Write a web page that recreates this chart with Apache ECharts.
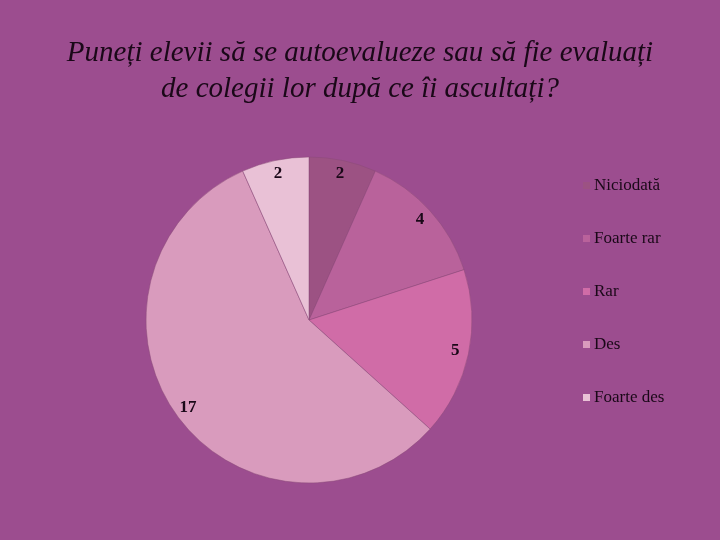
<!DOCTYPE html>
<html><head><meta charset="utf-8">
<script src="https://cdn.jsdelivr.net/npm/echarts@6/dist/echarts.min.js"></script>
<style>html,body{margin:0;padding:0;background:#9c4d8f;}#c{width:720px;height:540px;}</style>
</head><body><div id="c"></div>
<script>
const categories = ['Niciodată', 'Foarte rar', 'Rar', 'Des', 'Foarte des'];
const values = [2, 4, 5, 17, 2];
const colors = ['#9c5283', '#b9629b', '#d06ca7', '#d99bbd', '#e9c1d6'];
const titleText = 'Puneți elevii să se autoevalueze sau să fie evaluați\nde colegii lor după ce îi ascultați?';

const data = categories.map((n, i) => ({ name: n, value: values[i], itemStyle: { color: colors[i] } }));
const chart = echarts.init(document.getElementById('c'));
chart.setOption({
  backgroundColor: '#9c4d8f',
  animation: false,
  title: {
    text: titleText, left: 'center', top: 30,
    textStyle: { fontFamily: 'Liberation Serif', fontStyle: 'italic', fontWeight: 'normal', fontSize: 29, color: '#1a0818', lineHeight: 36 }
  },
  legend: {
    orient: 'vertical', left: 578, top: 172, itemGap: 36, itemWidth: 7, itemHeight: 7, icon: 'rect',
    itemStyle: { borderWidth: 0 },
    data: categories,
    textStyle: { fontFamily: 'Liberation Serif', fontSize: 17, color: '#1a0818', padding: [0, 0, 0, -1] }
  },
  series: [
    {
      type: 'pie', center: [309, 320], radius: [0, 163], startAngle: 90, clockwise: true,
      label: { show: false }, labelLine: { show: false },
      itemStyle: { borderColor: '#8a4a78', borderWidth: 0.5 },
      data: data
    },
    {
      type: 'pie', center: [309, 320], radius: [130, 163], startAngle: 90, clockwise: true, silent: true,
      legendHoverLink: false,
      itemStyle: { color: 'rgba(0,0,0,0)' },
      label: { show: true, position: 'inside', formatter: '{c}', fontFamily: 'Liberation Serif', fontWeight: 'bold', fontSize: 17, color: '#1a0818' },
      labelLine: { show: false },
      data: categories.map((n, i) => ({ name: n, value: values[i] }))
    }
  ]
});
</script></body></html>
